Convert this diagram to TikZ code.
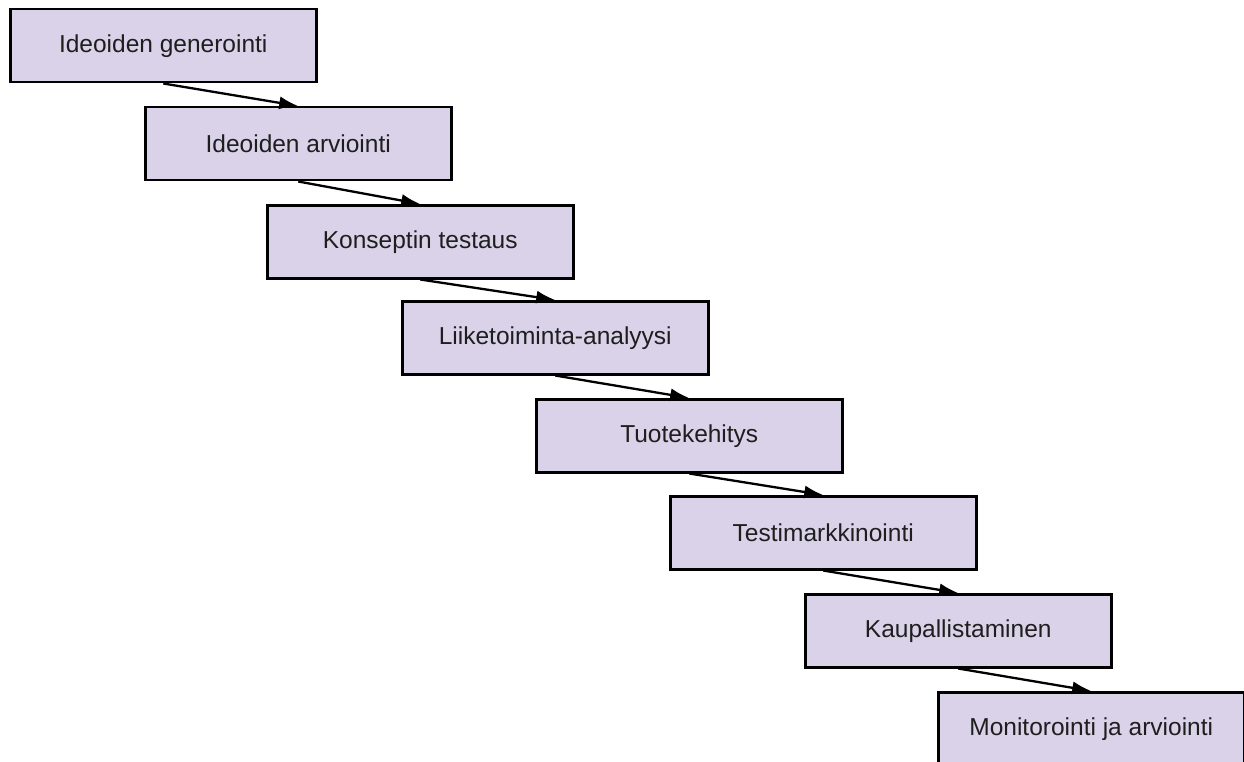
\documentclass[tikz,border=0pt]{standalone}
\usepackage{fontspec}
\setmainfont{Liberation Sans}
\usetikzlibrary{arrows.meta}
\definecolor{stepfill}{HTML}{D9D2E9}
\definecolor{steptext}{HTML}{1E1E1E}
\begin{document}
\begin{tikzpicture}[x=1pt,y=-1pt,
  stepbox/.style={draw=black, line width=2.5pt, fill=stepfill, rectangle,
    anchor=north west, minimum width=306pt, minimum height=73pt,
    inner sep=0pt, text=steptext, font=\fontsize{24.5}{29}\selectfont},
  flow/.style={line width=2.3pt, -{Latex[length=19pt,width=13pt]}}]
\useasboundingbox (0,0) rectangle (1244,762);
\clip (0,0) rectangle (1244,762);
% process stages, stepping down to the right
\node[stepbox] (s1) at (9,8)    {Ideoiden generointi};
\node[stepbox] (s2) at (144,106) {Ideoiden arviointi};
\node[stepbox] (s3) at (266,204) {Konseptin testaus};
\node[stepbox] (s4) at (401,300) {Liiketoiminta-analyysi};
\node[stepbox] (s5) at (535,398) {Tuotekehitys};
\node[stepbox] (s6) at (669,495) {Testimarkkinointi};
\node[stepbox] (s7) at (804,593) {Kaupallistaminen};
\node[stepbox] (s8) at (937,691) {Monitorointi ja arviointi};
% connectors between consecutive stages
\foreach \a/\b in {s1/s2,s2/s3,s3/s4,s4/s5,s5/s6,s6/s7,s7/s8}
  \draw[flow] (\a.south) -- (\b.north);
\end{tikzpicture}
\end{document}
